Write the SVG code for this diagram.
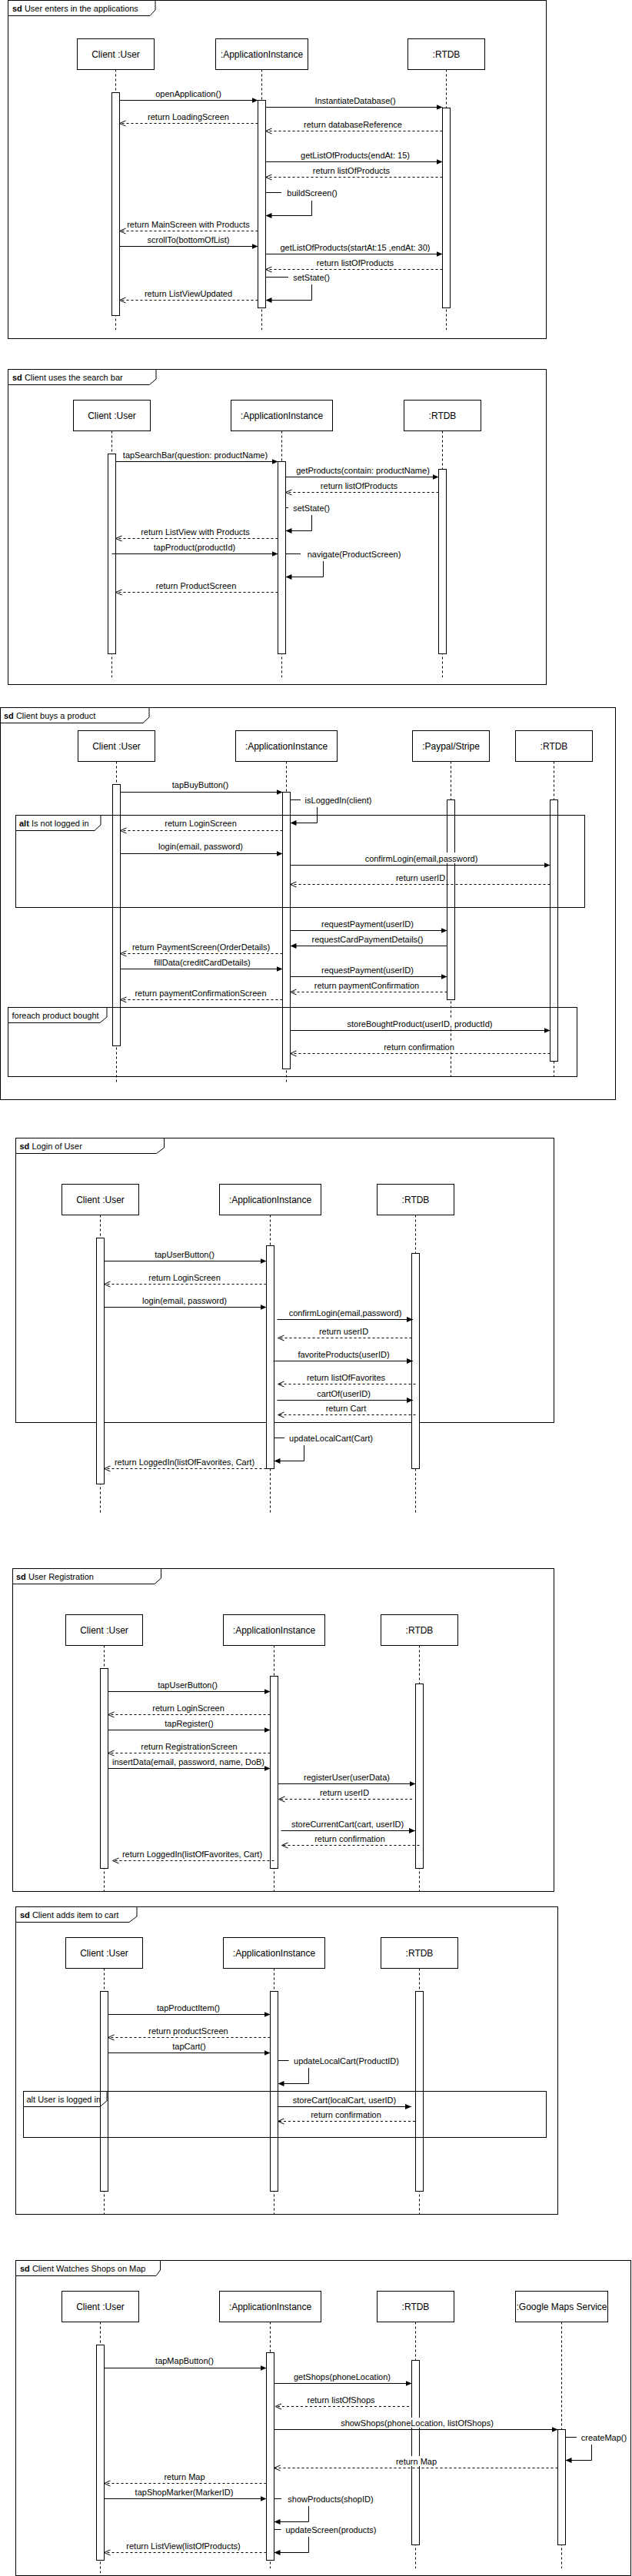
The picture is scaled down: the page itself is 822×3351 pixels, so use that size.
<svg xmlns="http://www.w3.org/2000/svg" width="822" height="3351" viewBox="0 0 822 3351">
<style>
.frame{fill:none;stroke:#000;stroke-width:1}
.tab{fill:#fff;stroke:#000;stroke-width:1}
.ftab{fill:none;stroke:#000;stroke-width:1}
.box{fill:#fff;stroke:#000;stroke-width:1}
.ll{fill:none;stroke:#000;stroke-width:1;stroke-dasharray:3 3}
.act{fill:#fff;stroke:#000;stroke-width:1}
.msg{fill:none;stroke:#000;stroke-width:1;marker-end:url(#block)}
.ret{fill:none;stroke:#000;stroke-width:1;stroke-dasharray:3 3;marker-end:url(#open)}
.bg{fill:#fff;stroke:none}
text{font-family:"Liberation Sans",Arial,Helvetica,sans-serif;fill:#000}
.t{font-size:11px;text-anchor:middle}
.ti{font-size:11px;text-anchor:start}
.p{font-size:12px;text-anchor:middle}
</style>
<defs>
<marker id="block" viewBox="0 0 8 8" markerWidth="8" markerHeight="8" refX="8" refY="4" orient="auto" markerUnits="userSpaceOnUse"><path d="M0,0.5 L8,4 L0,7.5 Z" fill="#000"/></marker>
<marker id="open" viewBox="0 0 8 8" markerWidth="8" markerHeight="8" refX="8" refY="4" orient="auto" markerUnits="userSpaceOnUse" overflow="visible"><path d="M0,0.5 L8,4 L0,7.5" fill="none" stroke="#000" stroke-width="1"/></marker>
</defs>
<rect x="0" y="0" width="822" height="3351" fill="#fff"/>

<!-- sd frames -->
<g id="frame-s1"><rect class="frame" x="10.5" y="0.5" width="700" height="440"/><path class="tab" d="M10.5,0.5 H202 V13 L195,20.5 H10.5 Z"/><text class="ti" x="16" y="15"><tspan font-weight="bold">sd</tspan> User enters in the applications</text></g>
<g id="frame-s2"><rect class="frame" x="10.5" y="480.5" width="700" height="410"/><path class="tab" d="M10.5,480.5 H203 V493 L194.5,500.5 H10.5 Z"/><text class="ti" x="16" y="495"><tspan font-weight="bold">sd</tspan> Client uses the search bar</text></g>
<g id="frame-s3"><rect class="frame" x="0.5" y="920.5" width="800" height="510"/><path class="tab" d="M0.5,920.5 H194 V933 L186,940.5 H0.5 Z"/><text class="ti" x="5" y="934.5"><tspan font-weight="bold">sd</tspan> Client buys a product</text></g>
<g id="frame-s4"><rect class="frame" x="20.5" y="1480.5" width="700" height="370"/><path class="tab" d="M20.5,1480.5 H213.5 V1493 L203.5,1500.5 H20.5 Z"/><text class="ti" x="25.5" y="1494.5"><tspan font-weight="bold">sd</tspan> Login of User</text></g>
<g id="frame-s5"><rect class="frame" x="16.5" y="2040.5" width="704" height="420"/><path class="tab" d="M16.5,2040.5 H209.5 V2053 L201,2060.5 H16.5 Z"/><text class="ti" x="21" y="2054.5"><tspan font-weight="bold">sd</tspan> User Registration</text></g>
<g id="frame-s6"><rect class="frame" x="20.5" y="2480.5" width="705" height="400"/><path class="tab" d="M20.5,2480.5 H178 V2493 L168,2500.5 H20.5 Z"/><text class="ti" x="26" y="2494.5"><tspan font-weight="bold">sd</tspan> Client adds item to cart</text></g>
<g id="frame-s7"><rect class="frame" x="20.5" y="2940.5" width="800" height="410"/><path class="tab" d="M20.5,2940.5 H208.5 V2953 L203,2960.5 H20.5 Z"/><text class="ti" x="26" y="2955"><tspan font-weight="bold">sd</tspan> Client Watches Shops on Map</text></g>

<!-- S1 lifelines -->
<g id="s1-client"><rect class="box" x="100.5" y="50.5" width="100" height="40"/><text class="p" x="150.5" y="74.5">Client :User</text><path class="ll" d="M150.5,90.5 V429"/><rect class="act" x="145.5" y="120.5" width="10" height="290"/></g>
<g id="s1-app"><rect class="box" x="280.5" y="50.5" width="120" height="40"/><text class="p" x="340.5" y="74.5">:ApplicationInstance</text><path class="ll" d="M340.5,90.5 V429"/><rect class="act" x="335.5" y="130.5" width="10" height="270"/></g>
<g id="s1-rtdb"><rect class="box" x="530.5" y="50.5" width="100" height="40"/><text class="p" x="580.5" y="74.5">:RTDB</text><path class="ll" d="M580.5,90.5 V429"/><rect class="act" x="575.5" y="140.5" width="10" height="260"/></g>

<!-- S2 lifelines -->
<g id="s2-client"><rect class="box" x="95.5" y="520.5" width="100" height="40"/><text class="p" x="145.5" y="544.5">Client :User</text><path class="ll" d="M145.5,560.5 V881"/><rect class="act" x="140.5" y="590.5" width="10" height="260"/></g>
<g id="s2-app"><rect class="box" x="300.5" y="520.5" width="132" height="40"/><text class="p" x="366.5" y="544.5">:ApplicationInstance</text><path class="ll" d="M366.5,560.5 V881"/><rect class="act" x="361.5" y="600.5" width="10" height="250"/></g>
<g id="s2-rtdb"><rect class="box" x="525.5" y="520.5" width="100" height="40"/><text class="p" x="575.5" y="544.5">:RTDB</text><path class="ll" d="M575.5,560.5 V881"/><rect class="act" x="570.5" y="610.5" width="10" height="240"/></g>

<!-- S3 lifelines -->
<g id="s3-client"><rect class="box" x="101.5" y="950.5" width="100" height="40"/><text class="p" x="151.5" y="974.5">Client :User</text><path class="ll" d="M151.5,990.5 V1410"/><rect class="act" x="146.5" y="1020.5" width="10" height="340"/></g>
<g id="s3-app"><rect class="box" x="306.5" y="950.5" width="132" height="40"/><text class="p" x="372.5" y="974.5">:ApplicationInstance</text><path class="ll" d="M372.5,990.5 V1410"/><rect class="act" x="367.5" y="1030.5" width="10" height="360"/></g>
<g id="s3-paypal"><rect class="box" x="536.5" y="950.5" width="100" height="40"/><text class="p" x="586.5" y="974.5">:Paypal/Stripe</text><path class="ll" d="M586.5,990.5 V1400"/><rect class="act" x="581.5" y="1040.5" width="10" height="260"/></g>
<g id="s3-rtdb"><rect class="box" x="670.5" y="950.5" width="100" height="40"/><text class="p" x="720.5" y="974.5">:RTDB</text><path class="ll" d="M720.5,990.5 V1400"/><rect class="act" x="715.5" y="1040.5" width="10" height="340"/></g>

<!-- S4 lifelines -->
<g id="s4-client"><rect class="box" x="80.5" y="1540.5" width="100" height="40"/><text class="p" x="130.5" y="1564.5">Client :User</text><path class="ll" d="M130.5,1580.5 V1970"/><rect class="act" x="125.5" y="1610.5" width="10" height="320"/></g>
<g id="s4-app"><rect class="box" x="285.5" y="1540.5" width="132" height="40"/><text class="p" x="351.5" y="1564.5">:ApplicationInstance</text><path class="ll" d="M351.5,1580.5 V1970"/><rect class="act" x="346.5" y="1620.5" width="10" height="290"/></g>
<g id="s4-rtdb"><rect class="box" x="490.5" y="1540.5" width="100" height="40"/><text class="p" x="540.5" y="1564.5">:RTDB</text><path class="ll" d="M540.5,1580.5 V1970"/><rect class="act" x="535.5" y="1630.5" width="10" height="280"/></g>

<!-- S5 lifelines -->
<g id="s5-client"><rect class="box" x="85.5" y="2100.5" width="100" height="40"/><text class="p" x="135.5" y="2124.5">Client :User</text><path class="ll" d="M135.5,2140.5 V2460"/><rect class="act" x="130.5" y="2170.5" width="10" height="260"/></g>
<g id="s5-app"><rect class="box" x="290.5" y="2100.5" width="132" height="40"/><text class="p" x="356.5" y="2124.5">:ApplicationInstance</text><path class="ll" d="M356.5,2140.5 V2460"/><rect class="act" x="351.5" y="2180.5" width="10" height="250"/></g>
<g id="s5-rtdb"><rect class="box" x="495.5" y="2100.5" width="100" height="40"/><text class="p" x="545.5" y="2124.5">:RTDB</text><path class="ll" d="M545.5,2140.5 V2460"/><rect class="act" x="540.5" y="2190.5" width="10" height="240"/></g>

<!-- S6 lifelines -->
<g id="s6-client"><rect class="box" x="85.5" y="2520.5" width="100" height="40"/><text class="p" x="135.5" y="2544.5">Client :User</text><path class="ll" d="M135.5,2560.5 V2880"/><rect class="act" x="130.5" y="2590.5" width="10" height="260"/></g>
<g id="s6-app"><rect class="box" x="290.5" y="2520.5" width="132" height="40"/><text class="p" x="356.5" y="2544.5">:ApplicationInstance</text><path class="ll" d="M356.5,2560.5 V2880"/><rect class="act" x="351.5" y="2590.5" width="10" height="260"/></g>
<g id="s6-rtdb"><rect class="box" x="495.5" y="2520.5" width="100" height="40"/><text class="p" x="545.5" y="2544.5">:RTDB</text><path class="ll" d="M545.5,2560.5 V2880"/><rect class="act" x="540.5" y="2590.5" width="10" height="260"/></g>

<!-- S7 lifelines -->
<g id="s7-client"><rect class="box" x="80.5" y="2980.5" width="100" height="40"/><text class="p" x="130.5" y="3004.5">Client :User</text><path class="ll" d="M130.5,3020.5 V3347"/><rect class="act" x="125.5" y="3050.5" width="10" height="280"/></g>
<g id="s7-app"><rect class="box" x="285.5" y="2980.5" width="132" height="40"/><text class="p" x="351.5" y="3004.5">:ApplicationInstance</text><path class="ll" d="M351.5,3020.5 V3341"/><rect class="act" x="346.5" y="3060.5" width="10" height="270"/></g>
<g id="s7-rtdb"><rect class="box" x="490.5" y="2980.5" width="100" height="40"/><text class="p" x="540.5" y="3004.5">:RTDB</text><path class="ll" d="M540.5,3020.5 V3341"/><rect class="act" x="535.5" y="3070.5" width="10" height="240"/></g>
<g id="s7-gmaps"><rect class="box" x="670.5" y="2980.5" width="120" height="40"/><text class="p" x="730.5" y="3004.5">:Google Maps Service</text><path class="ll" d="M730.5,3020.5 V3341"/><rect class="act" x="725.5" y="3160.5" width="10" height="150"/></g>

<!-- combined fragments -->
<g id="alt-not-logged"><rect class="frame" x="20.5" y="1060.5" width="740" height="120"/><path class="ftab" d="M20.5,1060.5 H131 V1073 L123,1080.5 H20.5"/><text class="ti" x="25" y="1074.5"><tspan font-weight="bold">alt</tspan> Is not logged in</text></g>
<g id="loop-foreach"><rect class="frame" x="10.5" y="1310.5" width="740" height="90"/><path class="ftab" d="M10.5,1310.5 H139 V1323 L130,1330.5 H10.5"/><text class="ti" x="15.5" y="1324.5">foreach product bought</text></g>
<g id="alt-logged-in"><rect class="frame" x="30.5" y="2720.5" width="680" height="60"/><path class="ftab" d="M30.5,2720.5 H139 V2733 L130,2740.5 H30.5"/><text class="ti" x="34.5" y="2734.5">alt User is logged in</text></g>

<g id="connectors">
<!-- S1 -->
<path class="msg" d="M155.5,130.5 H335.5"/><text class="t" x="245" y="126">openApplication()</text>
<path class="msg" d="M345.5,139.5 H575.5"/><text class="t" x="462" y="134.5">InstantiateDatabase()</text>
<path class="ret" d="M335.5,160.5 H155.5"/><text class="t" x="245" y="155.5">return LoadingScreen</text>
<path class="ret" d="M575.5,170.5 H345.5"/><text class="t" x="459" y="165.5">return databaseReference</text>
<path class="msg" d="M345.5,210.5 H575.5"/><text class="t" x="462" y="205.5">getListOfProducts(endAt: 15)</text>
<path class="ret" d="M575.5,230.5 H345.5"/><text class="t" x="457" y="225.5">return listOfProducts</text>
<path class="msg" d="M345.5,250.5 H405.5 V280.5 H345.5"/><rect class="bg" x="366" y="241" width="80" height="20"/><text class="t" x="406" y="254.5">buildScreen()</text>
<path class="ret" d="M335.5,300.5 H155.5"/><text class="t" x="245" y="295.5">return MainScreen with Products</text>
<path class="msg" d="M155.5,320.5 H335.5"/><text class="t" x="245" y="315.5">scrollTo(bottomOfList)</text>
<path class="msg" d="M345.5,330.5 H575.5"/><text class="t" x="462" y="325.5">getListOfProducts(startAt:15 ,endAt: 30)</text>
<path class="ret" d="M575.5,350.5 H345.5"/><text class="t" x="462" y="345.5">return listOfProducts</text>
<path class="msg" d="M345.5,360.5 H405.5 V390.5 H345.5"/><rect class="bg" x="375" y="351" width="61" height="19"/><text class="t" x="405" y="364.5">setState()</text>
<path class="ret" d="M335.5,390.5 H155.5"/><text class="t" x="245" y="385.5">return ListViewUpdated</text>
<!-- S2 -->
<path class="msg" d="M150.5,600.5 H361.5"/><text class="t" x="254" y="595.5">tapSearchBar(question: productName)</text>
<path class="msg" d="M371.5,620.5 H570.5"/><text class="t" x="472" y="615.5">getProducts(contain: productName)</text>
<path class="ret" d="M570.5,640.5 H371.5"/><text class="t" x="467" y="635.5">return listOfProducts</text>
<path class="msg" d="M371.5,660.5 H405.5 V690.5 H371.5"/><rect class="bg" x="375" y="651" width="61" height="19"/><text class="t" x="405" y="664.5">setState()</text>
<path class="ret" d="M361.5,700.5 H150.5"/><text class="t" x="254" y="695.5">return ListView with Products</text>
<path class="msg" d="M145.5,720.5 H361.5"/><text class="t" x="253" y="715.5">tapProduct(productId)</text>
<path class="msg" d="M371.5,720.5 H420.5 V750.5 H371.5"/><rect class="bg" x="391" y="711" width="139" height="19"/><text class="t" x="460.5" y="724.5">navigate(ProductScreen)</text>
<path class="ret" d="M361.5,770.5 H150.5"/><text class="t" x="255" y="765.5">return ProductScreen</text>
<!-- S3 -->
<path class="msg" d="M156.5,1030.5 H367.5"/><text class="t" x="260.5" y="1024.5">tapBuyButton()</text>
<path class="msg" d="M377.5,1040.5 H412.5 V1070.5 H377.5"/><rect class="bg" x="391" y="1031" width="98" height="19"/><text class="t" x="440" y="1044.5">isLoggedIn(client)</text>
<path class="ret" d="M367.5,1080.5 H156.5"/><text class="t" x="261" y="1075">return LoginScreen</text>
<path class="msg" d="M156.5,1110.5 H367.5"/><text class="t" x="261" y="1105">login(email, password)</text>
<path class="msg" d="M377.5,1125.5 H715.5"/><rect class="bg" x="472" y="1109" width="152" height="14"/><text class="t" x="548" y="1120.5">confirmLogin(email,password)</text>
<path class="ret" d="M715.5,1150.5 H377.5"/><text class="t" x="547" y="1145.5">return userID</text>
<path class="msg" d="M377.5,1210.5 H581.5"/><text class="t" x="478" y="1205.5">requestPayment(userID)</text>
<path class="msg" d="M581.5,1230.5 H377.5"/><text class="t" x="478" y="1225.5">requestCardPaymentDetails()</text>
<path class="ret" d="M367.5,1240.5 H156.5"/><text class="t" x="261.5" y="1235.5">return PaymentScreen(OrderDetails)</text>
<path class="msg" d="M156.5,1260.5 H367.5"/><text class="t" x="263" y="1255.5">fillData(creditCardDetails)</text>
<path class="msg" d="M377.5,1270.5 H581.5"/><text class="t" x="478" y="1265.5">requestPayment(userID)</text>
<path class="ret" d="M581.5,1290.5 H377.5"/><text class="t" x="477" y="1285.5">return paymentConfirmation</text>
<path class="ret" d="M367.5,1300.5 H156.5"/><text class="t" x="261" y="1295.5">return paymentConfirmationScreen</text>
<path class="msg" d="M377.5,1340.5 H715.5"/><rect class="bg" x="449" y="1324.5" width="194" height="14"/><text class="t" x="546" y="1335.5">storeBoughtProduct(userID, productId)</text>
<path class="ret" d="M715.5,1370.5 H377.5"/><rect class="bg" x="497" y="1354.5" width="96" height="14"/><text class="t" x="545" y="1365.5">return confirmation</text>
<!-- S4 -->
<path class="msg" d="M135.5,1640.5 H346.5"/><text class="t" x="240" y="1635.5">tapUserButton()</text>
<path class="ret" d="M346.5,1670.5 H135.5"/><text class="t" x="240" y="1665.5">return LoginScreen</text>
<path class="msg" d="M135.5,1700.5 H346.5"/><text class="t" x="240" y="1695.5">login(email, password)</text>
<path class="msg" d="M360.5,1716.5 H537"/><text class="t" x="449" y="1711.5">confirmLogin(email,password)</text>
<path class="ret" d="M535.5,1740.5 H361.5"/><text class="t" x="447" y="1735.5">return userID</text>
<path class="msg" d="M355.5,1770.5 H537"/><text class="t" x="447" y="1765.5">favoriteProducts(userID)</text>
<path class="ret" d="M540.5,1800.5 H361.5"/><text class="t" x="450" y="1795.5">return listOfFavorites</text>
<path class="msg" d="M360.5,1821.5 H537"/><text class="t" x="447" y="1816.5">cartOf(userID)</text>
<path class="ret" d="M540.5,1840.5 H361.5"/><text class="t" x="450" y="1835.5">return Cart</text>
<path class="msg" d="M356.5,1870.5 H395.5 V1900.5 H356.5"/><rect class="bg" x="370" y="1861" width="121" height="19"/><text class="t" x="430.5" y="1874.5">updateLocalCart(Cart)</text>
<path class="ret" d="M346.5,1910.5 H135.5"/><text class="t" x="240" y="1905.5">return LoggedIn(listOfFavorites, Cart)</text>
<!-- S5 -->
<path class="msg" d="M140.5,2200.5 H351.5"/><text class="t" x="244" y="2195.5">tapUserButton()</text>
<path class="ret" d="M351.5,2230.5 H140.5"/><text class="t" x="245" y="2225.5">return LoginScreen</text>
<path class="msg" d="M140.5,2250.5 H351.5"/><text class="t" x="246" y="2245.5">tapRegister()</text>
<path class="ret" d="M351.5,2280.5 H140.5"/><text class="t" x="246" y="2275.5">return RegistrationScreen</text>
<path class="msg" d="M140.5,2300.5 H351.5"/><text class="t" x="245" y="2295.5">insertData(email, password, name, DoB)</text>
<path class="msg" d="M361.5,2320.5 H540.5"/><text class="t" x="451" y="2315.5">registerUser(userData)</text>
<path class="ret" d="M536,2340.5 H362.5"/><text class="t" x="448" y="2335.5">return userID</text>
<path class="msg" d="M365.5,2381.5 H540"/><text class="t" x="452" y="2376.5">storeCurrentCart(cart, userID)</text>
<path class="ret" d="M545.5,2400.5 H366.5"/><text class="t" x="455" y="2395.5">return confirmation</text>
<path class="ret" d="M356.5,2420.5 H146.5"/><text class="t" x="250" y="2415.5">return LoggedIn(listOfFavorites, Cart)</text>
<!-- S6 -->
<path class="msg" d="M140.5,2620.5 H351.5"/><text class="t" x="245" y="2615.5">tapProductItem()</text>
<path class="ret" d="M351.5,2650.5 H140.5"/><text class="t" x="245" y="2645.5">return productScreen</text>
<path class="msg" d="M140.5,2670.5 H351.5"/><text class="t" x="246" y="2665.5">tapCart()</text>
<path class="msg" d="M361.5,2680.5 H401.5 V2710.5 H361.5"/><rect class="bg" x="375.5" y="2671" width="150" height="19"/><text class="t" x="450.5" y="2684.5">updateLocalCart(ProductID)</text>
<path class="msg" d="M360.5,2740.5 H535"/><text class="t" x="448" y="2735.5">storeCart(localCart, userID)</text>
<path class="ret" d="M540,2759.5 H361.5"/><text class="t" x="450" y="2754.5">return confirmation</text>
<!-- S7 -->
<path class="msg" d="M135.5,3080.5 H346.5"/><text class="t" x="240" y="3075">tapMapButton()</text>
<path class="msg" d="M356.5,3100.5 H535.5"/><text class="t" x="445" y="3095.5">getShops(phoneLocation)</text>
<path class="ret" d="M532,3130.5 H358"/><text class="t" x="443.5" y="3125.5">return listOfShops</text>
<path class="msg" d="M356.5,3160.5 H725.5"/><rect class="bg" x="441" y="3145" width="203" height="13"/><text class="t" x="542.5" y="3155.5">showShops(phoneLocation, listOfShops)</text>
<path class="msg" d="M735.5,3170.5 H769.5 V3200.5 H735.5"/><rect class="bg" x="750" y="3161" width="69" height="19"/><text class="t" x="785.5" y="3174.5">createMap()</text>
<path class="ret" d="M725.5,3210.5 H356.5"/><rect class="bg" x="513" y="3195" width="57" height="13"/><text class="t" x="541.5" y="3205.5">return Map</text>
<path class="ret" d="M346.5,3230.5 H135.5"/><text class="t" x="240" y="3225.5">return Map</text>
<path class="msg" d="M135.5,3250.5 H346.5"/><text class="t" x="239.5" y="3245.5">tapShopMarker(MarkerID)</text>
<path class="msg" d="M356.5,3250.5 H401.5 V3280.5 H356.5"/><rect class="bg" x="366" y="3241" width="128" height="19"/><text class="t" x="430" y="3254.5">showProducts(shopID)</text>
<path class="msg" d="M356.5,3290.5 H401.5 V3320.5 H356.5"/><rect class="bg" x="365.5" y="3281" width="131" height="19"/><text class="t" x="430.5" y="3294.5">updateScreen(products)</text>
<path class="ret" d="M346.5,3320.5 H135.5"/><text class="t" x="238.5" y="3315.5">return ListView(listOfProducts)</text>
</g>
</svg>
